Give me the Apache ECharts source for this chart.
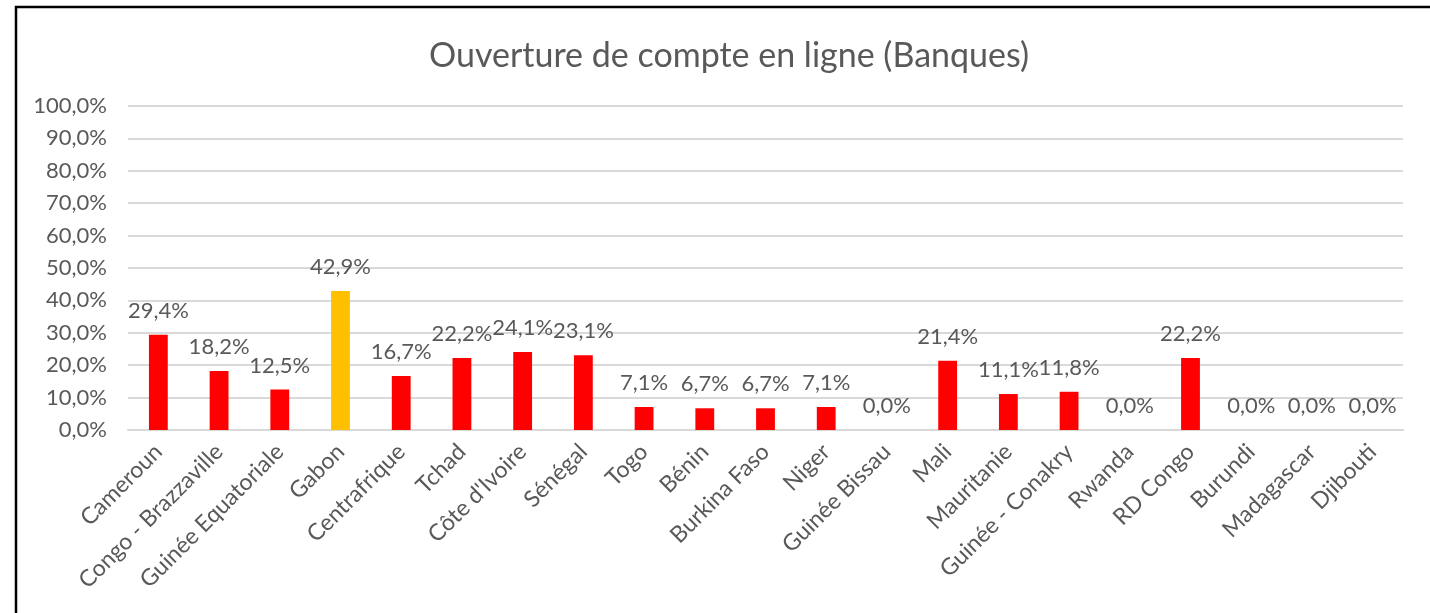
<!DOCTYPE html>
<html>
<head>
<meta charset="utf-8">
<script src="https://cdn.jsdelivr.net/npm/echarts@6/dist/echarts.min.js"></script>
<style>
  html, body { margin: 0; padding: 0; background: #fff; }
  #chart { width: 1430px; height: 613px; }
</style>
</head>
<body>
<div id="chart"></div>
<script>
    // pays / valeurs
    var countries = ['Cameroun', 'Congo - Brazzaville', 'Guinée Equatoriale', 'Gabon', 'Centrafrique',
        'Tchad', "Côte d'Ivoire", 'Sénégal', 'Togo', 'Bénin', 'Burkina Faso', 'Niger',
        'Guinée Bissau', 'Mali', 'Mauritanie', 'Guinée - Conakry', 'Rwanda', 'RD Congo',
        'Burundi', 'Madagascar', 'Djibouti'];
    var rates = [29.4, 18.2, 12.5, 42.9, 16.7, 22.2, 24.1, 23.1, 7.1, 6.7, 6.7, 7.1,
        0.0, 21.4, 11.1, 11.8, 0.0, 22.2, 0.0, 0.0, 0.0];
    var highlighted = ['Gabon'];
    var yTicks = [0, 10, 20, 30, 40, 50, 60, 70, 80, 90, 100];

    var FONT = 'Lato, "Open Sans", sans-serif';
    var TEXT = '#595959';

    function pct(v) { return v.toFixed(1).replace('.', ',') + '%'; }

    var chart = echarts.init(document.getElementById('chart'), null, { renderer: 'canvas' });

    var option = {
        backgroundColor: '#fff',
        animation: false,
        title: {
            text: 'Ouverture de compte en ligne (Banques)',
            left: 724,
            top: 34,
            textAlign: 'center',
            textStyle: { color: TEXT, fontFamily: FONT, fontSize: 34, fontWeight: 'normal' }
        },
        grid: { left: 128, right: 27, top: 106, bottom: 183, containLabel: false },
        xAxis: {
            type: 'category',
            data: countries,
            axisLine: { show: true, lineStyle: { color: '#d9d9d9', width: 2 } },
            axisTick: { show: false },
            axisLabel: {
                interval: 0,
                rotate: 45,
                margin: 18,
                color: TEXT,
                fontFamily: FONT,
                fontSize: 23
            }
        },
        yAxis: {
            type: 'value',
            min: yTicks[0],
            max: yTicks[yTicks.length - 1],
            interval: 10,
            axisLine: { show: false },
            axisTick: { show: false },
            splitLine: { lineStyle: { color: '#d9d9d9', width: 2 } },
            axisLabel: {
                margin: 21,
                color: TEXT,
                fontFamily: FONT,
                fontSize: 22,
                formatter: function (v) { return pct(v); }
            }
        },
        series: [{
            type: 'bar',
            barWidth: '31%',
            data: rates.map(function (v, i) {
                return {
                    value: v,
                    itemStyle: { color: highlighted.indexOf(countries[i]) !== -1 ? '#FFC000' : '#FF0000' }
                };
            }),
            label: {
                show: true,
                position: 'top',
                distance: 13,
                color: TEXT,
                fontFamily: FONT,
                fontSize: 22,
                formatter: function (p) { return pct(p.value); }
            }
        }],
        graphic: [{
            type: 'polyline',
            shape: { points: [[16, 613], [16, 7], [1430, 7]] },
            style: { stroke: '#000', lineWidth: 2.5, fill: null },
            silent: true
        }]
    };

    chart.setOption(option);
    window.addEventListener('resize', function () { chart.resize(); });
</script>
</body>
</html>
